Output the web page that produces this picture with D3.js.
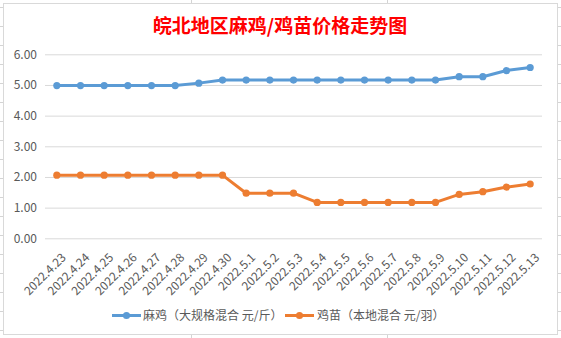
<!DOCTYPE html>
<html><head><meta charset="utf-8">
<script src="https://cdn.jsdelivr.net/npm/d3@7"></script>
<style>body{margin:0;background:#fff;}svg{display:block;}</style>
</head><body>
<svg id="c" width="561" height="338"></svg>
<script>
const title = "皖北地区麻鸡/鸡苗价格走势图";
const categories = ["2022.4.23","2022.4.24","2022.4.25","2022.4.26","2022.4.27","2022.4.28","2022.4.29","2022.4.30","2022.5.1","2022.5.2","2022.5.3","2022.5.4","2022.5.5","2022.5.6","2022.5.7","2022.5.8","2022.5.9","2022.5.10","2022.5.11","2022.5.12","2022.5.13"];
const seriesNames = ["麻鸡（大规格混合 元/斤）","鸡苗（本地混合 元/羽）"];
const maji = [4.98,4.98,4.98,4.98,4.98,4.98,5.06,5.16,5.16,5.16,5.16,5.16,5.16,5.16,5.16,5.16,5.16,5.27,5.27,5.47,5.57];
const jimiao = [2.06,2.06,2.06,2.06,2.06,2.06,2.06,2.06,1.47,1.47,1.47,1.17,1.17,1.17,1.17,1.17,1.17,1.43,1.52,1.67,1.77];
const yTicks = [0,1,2,3,4,5,6];
const colors = ["#5B9BD5","#ED7D31"];

const svg = d3.select("#c");
const font = "'Noto Sans CJK SC','Noto Sans',sans-serif";

// spreadsheet background lines
const bg = svg.append("g").attr("stroke","#D4D4D4").attr("stroke-width",1);
d3.range(7, 338, 19).forEach(y=>{
  bg.append("line").attr("x1",0).attr("x2",3).attr("y1",y+0.5).attr("y2",y+0.5);
  bg.append("line").attr("x1",558).attr("x2",561).attr("y1",y+0.5).attr("y2",y+0.5);
});
[191.5,387.5].forEach(x=>{
  bg.append("line").attr("x1",x).attr("x2",x).attr("y1",0).attr("y2",3);
  bg.append("line").attr("x1",x).attr("x2",x).attr("y1",335).attr("y2",338);
});
// chart frame
svg.append("rect").attr("x",3.5).attr("y",3.5).attr("width",554).attr("height",331)
  .attr("fill","#fff").attr("stroke","#D9D9D9");

const x = d3.scaleBand().domain(categories).range([45,542]).padding(0);
const y = d3.scaleLinear().domain([0,6]).range([238.3,54.3]);

// title
svg.append("text").attr("x",280).attr("y",33).attr("text-anchor","middle")
  .attr("fill","#FF0000").attr("font-family",font).attr("font-weight","bold")
  .attr("font-size",19).text(title);

// grid
const yAxis = d3.axisLeft(y).tickValues(yTicks).tickFormat(d3.format(".2f")).tickSize(-(542-45)).tickPadding(8);
const gy = svg.append("g").attr("transform","translate(45,0)").call(yAxis);
gy.select(".domain").remove();
gy.selectAll(".tick line").attr("stroke","#D9D9D9").attr("stroke-width",1);
gy.selectAll(".tick text").attr("fill","#595959").attr("font-family",font).attr("font-size",12);

// x labels
const xAxis = d3.axisBottom(x).tickSize(0).tickPadding(0);
const gx = svg.append("g").attr("transform","translate(0,238.3)").call(xAxis);
gx.select(".domain").remove();
gx.selectAll(".tick text")
  .attr("fill","#595959").attr("font-family",font).attr("font-size",12)
  .attr("text-anchor","end").attr("dy",null).attr("y",0)
  .attr("transform","translate(10,20) rotate(-45)");

// lines
const data = [maji, jimiao];
const line = d3.line().x((d,i)=>x(categories[i])+x.bandwidth()/2).y(d=>y(d));
data.forEach((s,k)=>{
  svg.append("path").datum(s).attr("d",line).attr("fill","none")
    .attr("stroke",colors[k]).attr("stroke-width",3).attr("stroke-linejoin","round");
  svg.append("g").selectAll("circle").data(s).join("circle")
    .attr("cx",(d,i)=>x(categories[i])+x.bandwidth()/2).attr("cy",d=>y(d))
    .attr("r",3.6).attr("fill",colors[k]);
});

// legend
const legendItems = [{x:112,tx:143},{x:285,tx:317}];
legendItems.forEach((p,k)=>{
  const g = svg.append("g");
  g.append("line").attr("x1",p.x).attr("x2",p.x+29).attr("y1",315.5).attr("y2",315.5)
    .attr("stroke",colors[k]).attr("stroke-width",3);
  g.append("circle").attr("cx",p.x+14.5).attr("cy",315.5).attr("r",3.6).attr("fill",colors[k]);
  g.append("text").attr("x",p.tx).attr("y",320).attr("fill","#595959")
    .attr("font-family",font).attr("font-size",12).text(seriesNames[k]);
});
</script>
</body></html>
